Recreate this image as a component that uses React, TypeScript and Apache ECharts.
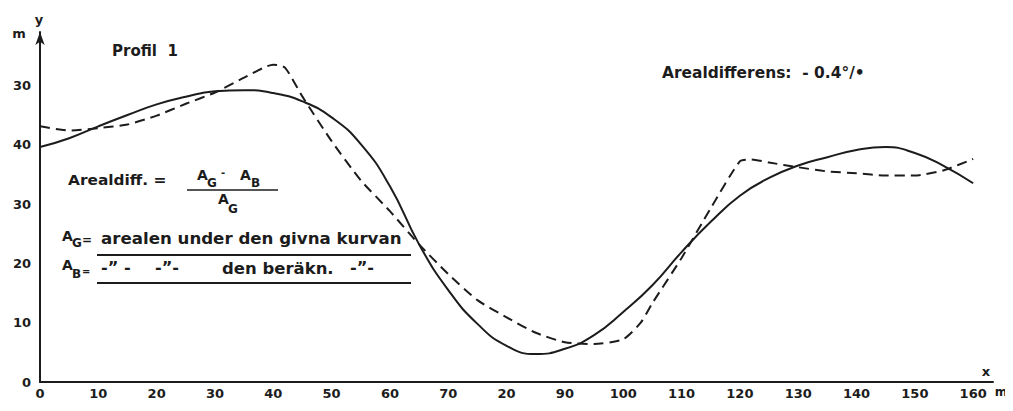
import React, { useEffect, useRef } from "react";
import * as echarts from "echarts";

// Given curve (solid) – "den givna kurvan"
const givenX = [0, 5, 10, 15, 20, 25, 30, 35, 40, 45, 50, 55, 60, 65, 70, 75, 80, 85, 90, 95, 100, 105, 110, 115, 120, 125, 130, 135, 140, 145, 150, 155, 160];
const givenY = [39.6, 41.1, 43.1, 45.0, 46.8, 48.1, 49.0, 49.2, 48.7, 47.3, 44.6, 40.1, 33.0, 23.2, 15.5, 9.8, 6.1, 4.7, 5.6, 7.9, 11.8, 16.3, 21.9, 27.0, 31.4, 34.4, 36.5, 37.9, 39.1, 39.6, 38.6, 36.4, 33.5];

// Computed curve (dashed) – "den beräknade"
const calcX = [0, 5, 10, 15, 20, 25, 30, 35, 40, 42, 45, 50, 55, 60, 65, 70, 75, 80, 85, 90, 95, 100, 103, 105, 110, 115, 120, 122, 125, 130, 135, 140, 145, 150, 155, 160];
const calcY = [43.1, 42.4, 42.8, 43.4, 44.9, 46.9, 48.8, 51.3, 53.5, 53.0, 48.1, 40.6, 34.0, 28.8, 23.2, 18.2, 13.8, 10.9, 8.3, 6.7, 6.4, 7.2, 10.0, 13.3, 20.9, 29.3, 37.2, 37.5, 37.0, 36.2, 35.5, 35.2, 34.8, 34.8, 35.7, 37.6];

// Tick labels as printed
const xTickLabels = ["0", "10", "20", "30", "40", "50", "60", "70", "20", "90", "100", "110", "120", "130", "140", "150", "160"];
const yTickLabels = ["0", "10", "20", "30", "40", "30"];

const INK = "#1c1c1c";
const FONT = "DejaVu Sans";

export default function App() {
  const ref = useRef<HTMLDivElement>(null);

  useEffect(() => {
    if (!ref.current) return;
    const chart = echarts.init(ref.current, undefined, { renderer: "svg" });

    const txt = (x: number, y: number, text: string, size = 14, align = "left", sx = 1) => ({
      type: "text",
      x,
      y,
      scaleX: sx,
      style: {
        text,
        fill: INK,
        font: `bold ${size}px "${FONT}"`,
        align,
        verticalAlign: "middle",
      },
    });
    const ln = (x1: number, y1: number, x2: number, y2: number, w = 1.6) => ({
      type: "line",
      shape: { x1, y1, x2, y2 },
      style: { stroke: INK, lineWidth: w },
    });

    chart.setOption({
      animation: false,
      backgroundColor: "#ffffff",
      grid: { left: 40, right: 20, top: 32, bottom: 29, containLabel: false },
      xAxis: {
        type: "value",
        min: 0,
        max: 163.4,
        interval: 10,
        splitLine: { show: false },
        axisTick: { show: false },
        axisLine: { lineStyle: { color: INK, width: 2 } },
        axisLabel: {
          margin: 5,
          color: INK,
          fontFamily: FONT,
          fontWeight: "bold",
          fontSize: 13,
          showMaxLabel: false,
          formatter: (v: number) => {
            const i = Math.round(v / 10);
            return Math.abs(v - i * 10) < 1e-6 && i < xTickLabels.length ? xTickLabels[i] : "";
          },
        },
      },
      yAxis: {
        type: "value",
        min: 0,
        max: 59,
        interval: 10,
        splitLine: { show: false },
        axisTick: { show: false },
        axisLine: {
          show: true,
          symbol: ["none", "arrow"],
          symbolSize: [7, 13],
          lineStyle: { color: INK, width: 2 },
        },
        axisLabel: {
          margin: 9,
          color: INK,
          fontFamily: FONT,
          fontWeight: "bold",
          fontSize: 13,
          verticalAlign: "middle",
          padding: [0, 0, 6, 0],
          showMaxLabel: false,
          formatter: (v: number) => {
            const i = Math.round(v / 10);
            return Math.abs(v - i * 10) < 1e-6 && i < yTickLabels.length ? yTickLabels[i] : "";
          },
        },
      },
      series: [
        {
          type: "line",
          name: "given",
          data: givenX.map((x, i) => [x, givenY[i]]),
          smooth: 0.5,
          symbol: "none",
          lineStyle: { color: INK, width: 2 },
        },
        {
          type: "line",
          name: "calc",
          data: calcX.map((x, i) => [x, calcY[i]]),
          smooth: 0.2,
          symbol: "none",
          lineStyle: { color: INK, width: 2, type: [10, 6] },
        },
      ],
      graphic: [
        txt(19, 33, "m", 13, "center"),
        txt(39, 19, "y", 13, "center"),
        txt(986, 371, "x", 13, "center"),
        txt(1001, 392, "m", 12, "center"),
        txt(112, 51, "Profil  1", 15),
        txt(662, 73, "Arealdifferens:  - 0.4°/\u2022", 15, "left", 1.03),
        // formula
        txt(68, 180, "Arealdiff. =", 14, "left", 1.1),
        txt(197, 175, "A", 14),
        txt(207, 183, "G", 12),
        txt(221, 172, "-", 10),
        txt(240, 175, "A", 14),
        txt(251, 183, "B", 12),
        ln(187, 190, 278, 190, 1.6),
        txt(218, 199, "A", 14),
        txt(228, 209, "G", 12),
        // definitions
        txt(62, 236, "A", 14),
        txt(72, 243, "G", 12),
        txt(82, 240, "=", 12),
        txt(101, 239, "arealen under den givna kurvan", 15, "left", 1.11),
        ln(97, 255, 411, 255, 1.8),
        txt(62, 265, "A", 14),
        txt(72, 274, "B", 12),
        txt(82, 271, "=", 10),
        txt(101, 268, "-\u201d -", 15, "left", 1.08),
        txt(155, 268, "-\u201d-", 15, "left", 1.08),
        txt(222, 269, "den beräkn.", 15, "left", 1.1),
        txt(350, 268, "-\u201d-", 15, "left", 1.08),
        ln(97, 283, 411, 283, 1.8),
      ],
    });

    return () => chart.dispose();
  }, []);

  return <div ref={ref} style={{ width: 1013, height: 411, margin: -8 }} />;
}
